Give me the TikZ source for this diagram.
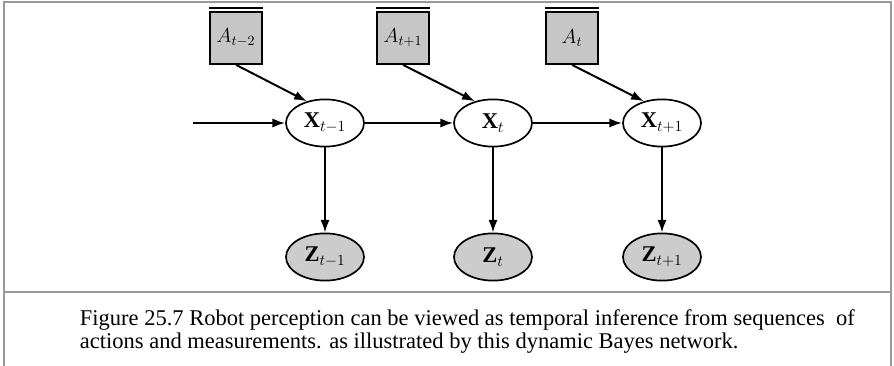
\documentclass[tikz,border=0pt]{standalone}
\usepackage{fontspec}
\setmainfont{Liberation Serif}
\usepackage{tikz}
\usetikzlibrary{shapes.geometric,arrows.meta,positioning}

\begin{document}
\begin{tikzpicture}[
    x=0.025cm, y=-0.025cm,
    frameLine/.style={draw=gray!80, line width=1.4pt},
    actionBox/.style={
        rectangle, draw=black, line width=1.2pt, fill=gray!45,
        minimum width=1.3cm, minimum height=1.3cm, inner sep=0pt,
        font=\fontsize{14}{16}\selectfont
    },
    stateNode/.style={
        ellipse, draw=black, line width=1.2pt, fill=white,
        minimum width=1.95cm, minimum height=1.18cm, inner sep=0pt,
        font=\fontsize{16}{18}\selectfont
    },
    obsNode/.style={stateNode, fill=gray!40},
    link/.style={-{Latex[length=9pt, width=6.5pt]}, line width=1.4pt},
    capText/.style={anchor=base west, font=\fontsize{16}{19}\selectfont}
]
\useasboundingbox (0,0) rectangle (894,366);

% Frame
\draw[frameLine] (4,366) -- (4,2) -- (891,2) -- (891,366);
\draw[frameLine] (4,292) -- (891,292);

\begin{scope}
\clip (0,0) rectangle (702,290);

% Actions
\node[actionBox] (a1) at (236,38) {$A_{t-2}$};
\node[actionBox] (a2) at (403,38) {$A_{t+1}$};
\node[actionBox] (a3) at (572,38) {$A_{t}$};
\foreach \n in {a1,a2,a3}
    \draw[line width=1.1pt] ([yshift=2.4pt]\n.north west) -- ([yshift=2.4pt]\n.north east);

% States
\node[stateNode] (x1) at (325,123) {$\mathbf{X}_{t-1}$};
\node[stateNode] (x2) at (493,123) {$\mathbf{X}_{t}$};
\node[stateNode] (x3) at (662,123) {$\mathbf{X}_{t+1}$};
\coordinate (xin) at (193,123);

% Observations
\node[obsNode] (z1) at (325,257) {$\mathbf{Z}_{t-1}$};
\node[obsNode] (z2) at (493,257) {$\mathbf{Z}_{t}$};
\node[obsNode] (z3) at (662,257) {$\mathbf{Z}_{t+1}$};

% Links
\draw[link] (xin) -- (x1);
\draw[link] (x1) -- (x2);
\draw[link] (x2) -- (x3);
\draw[link] (a1.south) -- (x1.130);
\draw[link] (a2.south) -- (x2.130);
\draw[link] (a3.south) -- (x3.130);
\draw[link] (x1) -- (z1);
\draw[link] (x2) -- (z2);
\draw[link] (x3) -- (z3);
\end{scope}

% Caption
\node[capText] (cap1) at (75,325) {Figure 25.7 Robot perception can be viewed as temporal inference from sequences\ \ of};
\node[capText] (cap2) at (75,349) {actions and measurements. as illustrated by this dynamic Bayes network.};

\end{tikzpicture}
\end{document}
